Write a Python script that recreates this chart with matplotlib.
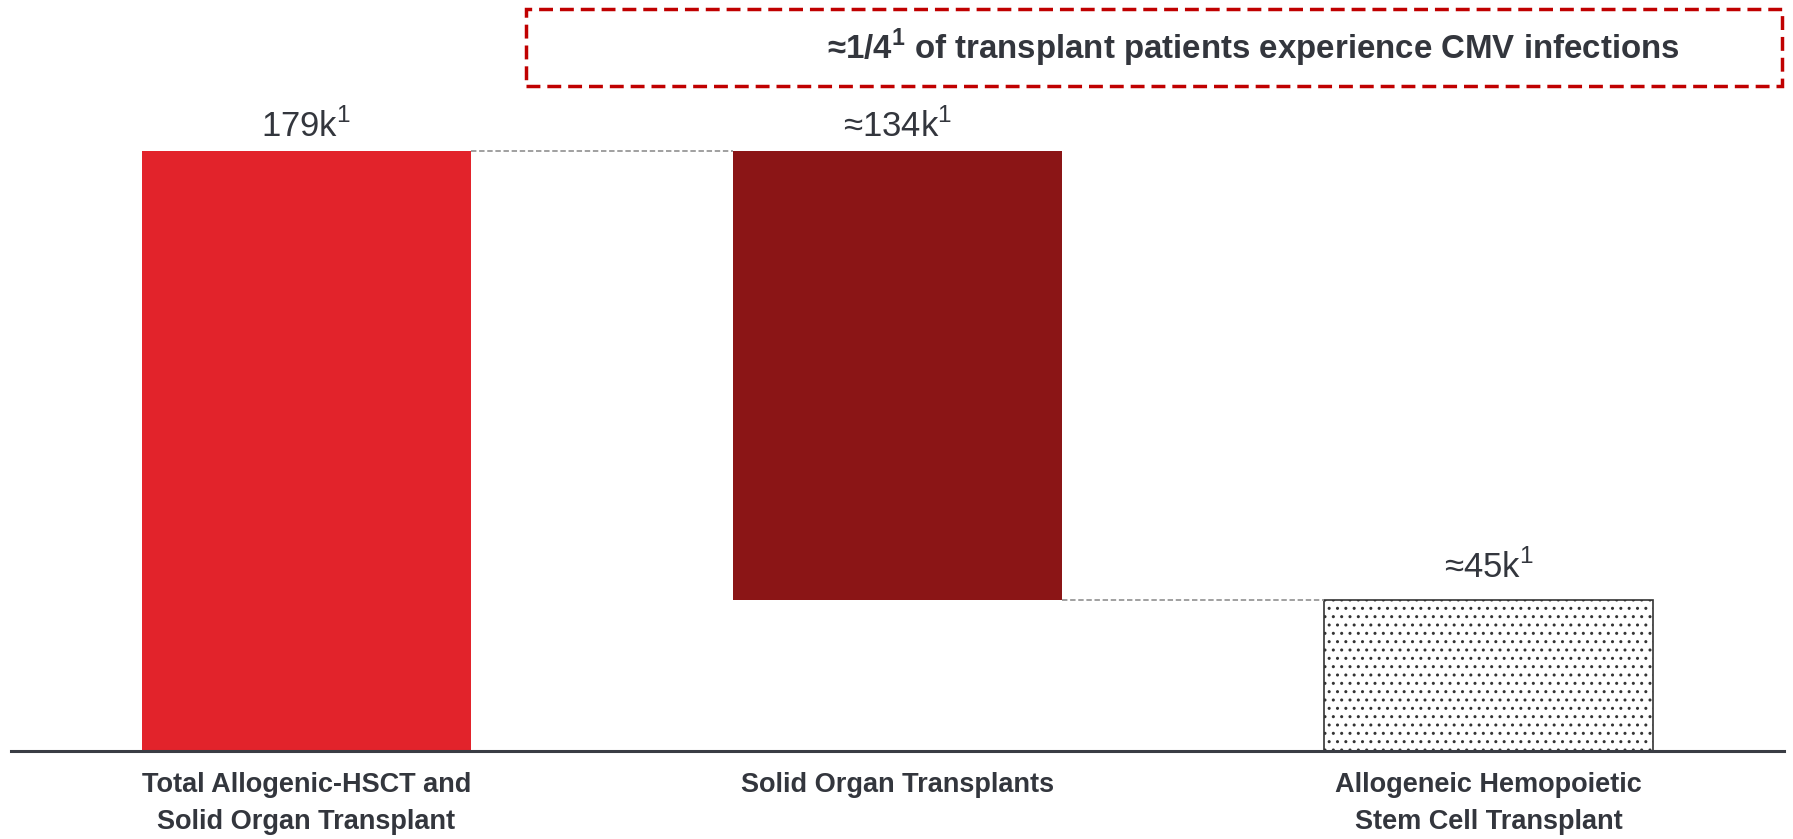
import matplotlib
matplotlib.use('Agg')
import matplotlib.pyplot as plt
from matplotlib.patches import Rectangle

plt.rcParams['mathtext.fontset'] = 'custom'
plt.rcParams['mathtext.rm'] = 'Liberation Sans'
plt.rcParams['mathtext.bf'] = 'Liberation Sans:bold'

# data
categories = ['Total Allogenic-HSCT and\nSolid Organ Transplant',
              'Solid Organ Transplants',
              'Allogeneic Hemopoietic\nStem Cell Transplant']
values = [179, 134, 45]
value_labels = ['179k$^{1}$', '\u2248134k$^{1}$', '\u224845k$^{1}$']
headline = '\u22481/4$^{\\mathbf{1}}$ of transplant patients experience CMV infections'

bar_colors = ['#E2232B', '#8B1516', 'white']
text_color = '#33363D'
fonts = ['Liberation Sans', 'DejaVu Sans']

# waterfall bottoms: total, then the two parts stacked down
bottoms = [0, values[0] - values[1], 0]
x = list(range(len(values)))
width = 0.557

fig = plt.figure(figsize=(17.93, 8.39), dpi=100)
ax = fig.add_axes([11/1793, 1 - 751/839, (1784 - 11)/1793, (751 - 81)/839])

bars = ax.bar(x, values, width=width, bottom=bottoms, color=bar_colors, linewidth=0)
# dotted bar
bars[2].set_hatch('..')
bars[2].set_edgecolor('#333333')
bars[2].set_linewidth(1.2)

# connector lines
ax.plot([x[0] + width/2, x[1] - width/2], [values[0], values[0]],
        color='#999999', lw=1.3, ls=(0, (3, 1.5)))
ax.plot([x[1] + width/2, x[2] - width/2], [bottoms[1], bottoms[1]],
        color='#999999', lw=1.3, ls=(0, (3, 1.5)))

# value labels (baseline offset in px)
offsets = [15, 15, 22]
for xi, b, v, lab, off in zip(x, bottoms, values, value_labels, offsets):
    ax.annotate(lab, (xi, b + v), xytext=(0, off * 0.72), textcoords='offset points',
                ha='center', va='baseline', fontsize=25, color=text_color, family=fonts)

# category labels
for xi, cat in zip(x, categories):
    ax.text(xi, -0.032, cat, transform=ax.get_xaxis_transform(), ha='center', va='top',
            fontsize=19.5, fontweight='bold', color=text_color, family=fonts, linespacing=1.55)

ax.set_xlim(-0.5, 2.5)
ax.set_ylim(0, 200)
for s in ['top', 'right', 'left']:
    ax.spines[s].set_visible(False)
ax.spines['bottom'].set_color('#3A3D44')
ax.spines['bottom'].set_linewidth(2.2)
ax.set_xticks([])
ax.set_yticks([])

# dashed headline box
box = Rectangle((526/1793, 1 - 86/839), 1256/1793, 77/839, transform=fig.transFigure,
                fill=False, edgecolor='#C00000', lw=2.5, ls=(0, (4, 2)))
fig.patches.append(box)
fig.text(1253/1793, 1 - 48/839, headline, ha='center', va='center', fontsize=23.8,
         fontweight='bold', color=text_color, family=fonts)

fig.savefig('out.png', dpi=100)
